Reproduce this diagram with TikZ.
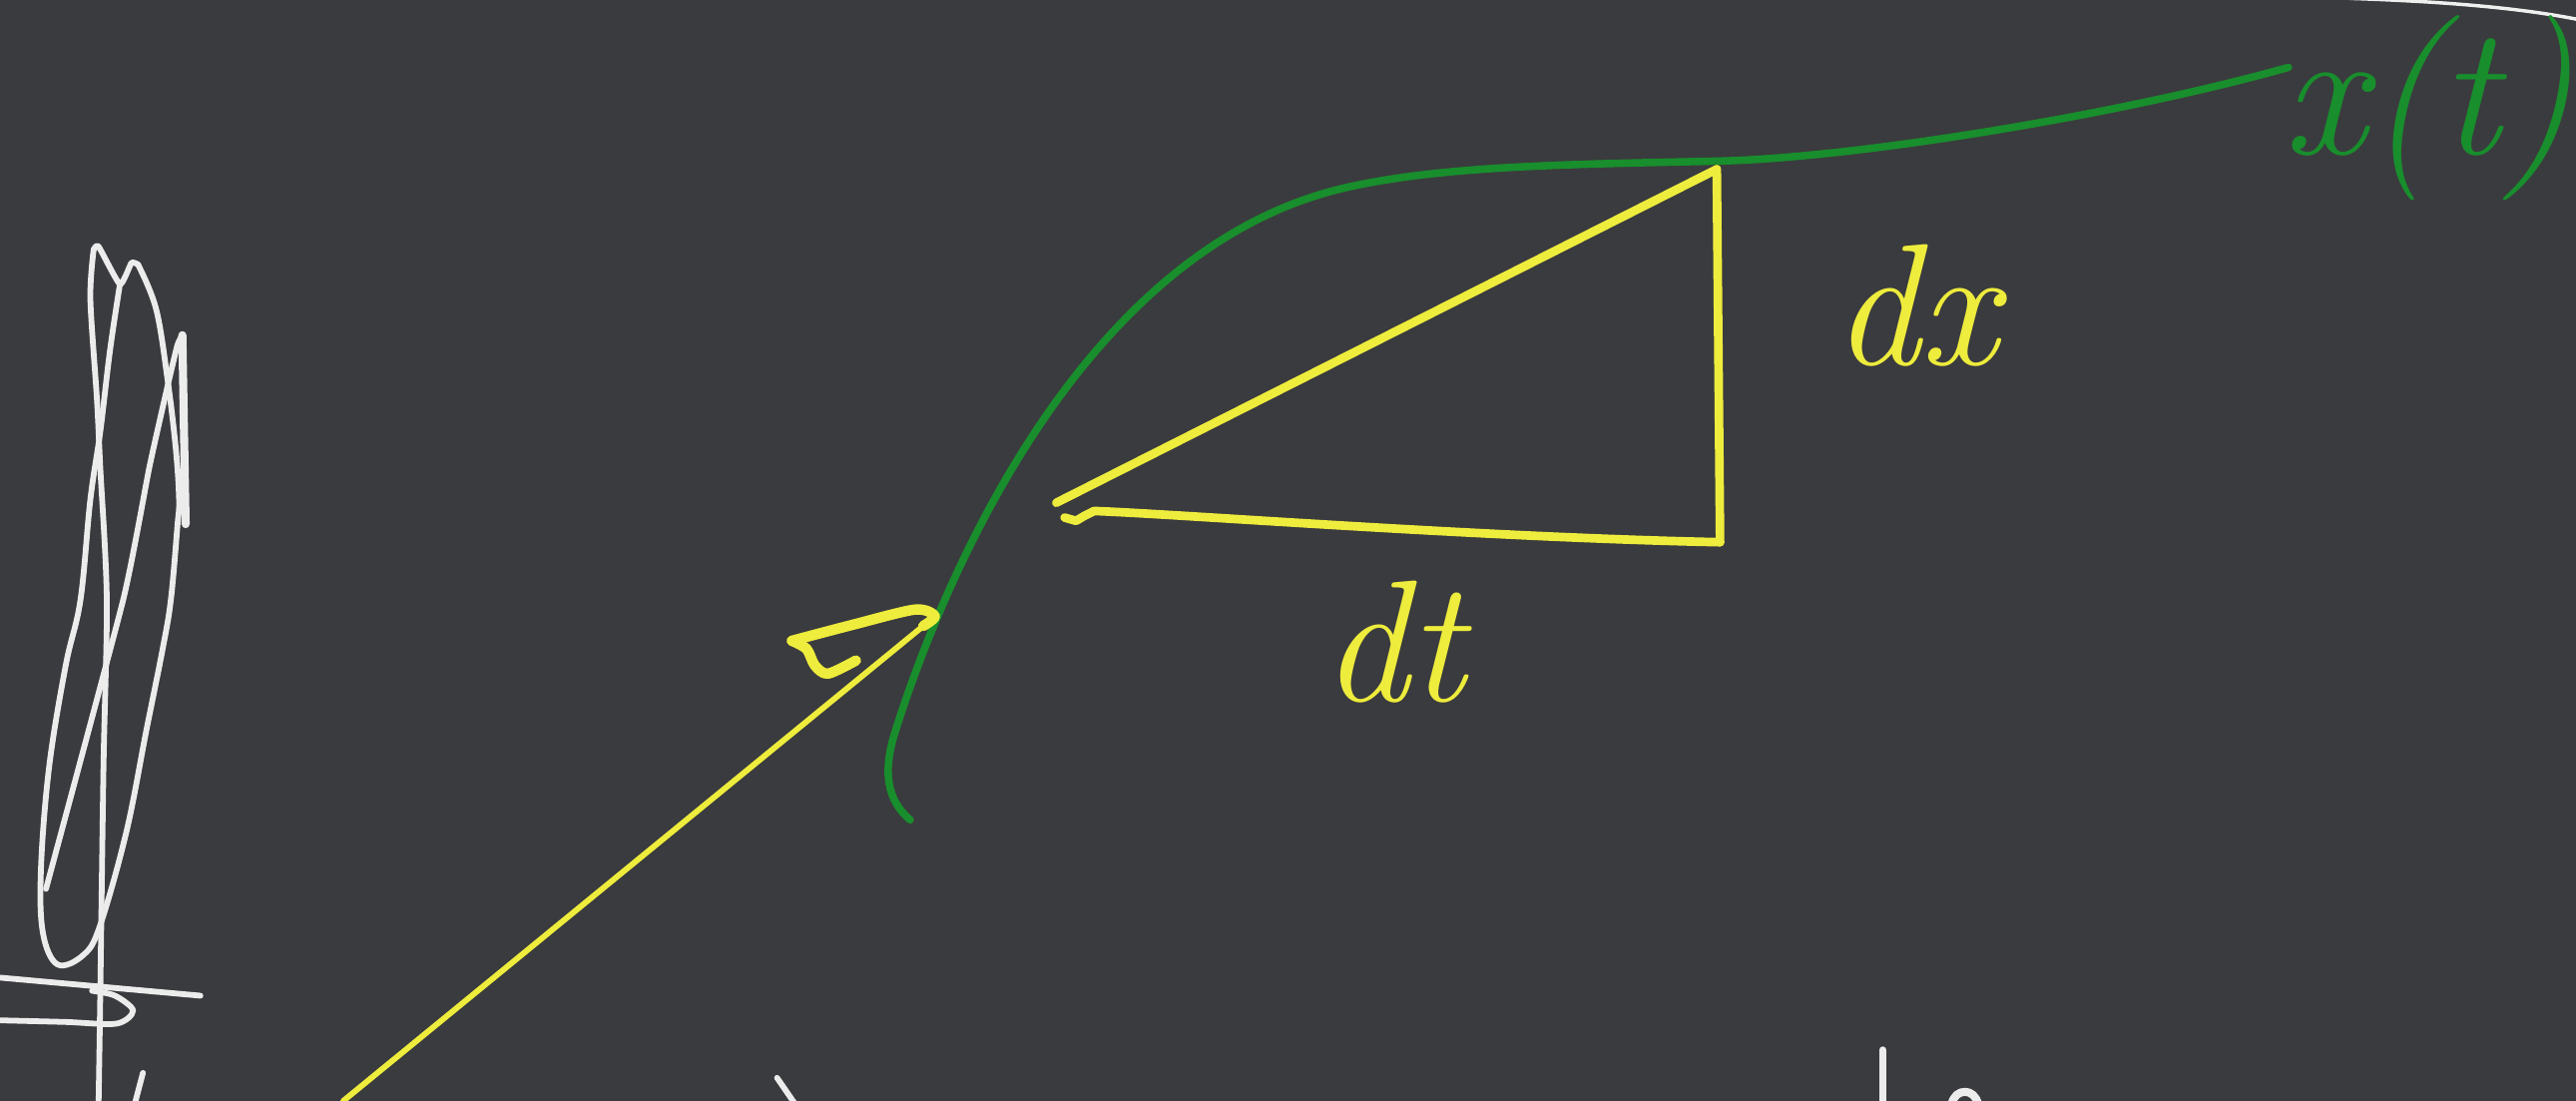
\documentclass[tikz,border=0pt]{standalone}
\definecolor{boardbg} {RGB}{58,59,62}
\definecolor{chalkyel}{RGB}{238,236,60}
\definecolor{chalkgrn}{RGB}{24,142,44}
\definecolor{chalkwht}{RGB}{236,236,236}
\usepackage{tikz}
\usetikzlibrary{calc}

\begin{document}
\begin{tikzpicture}[
        x=0.01cm, y=-0.01cm,
        ylw/.style={draw=chalkyel, line width=#1, line cap=round, line join=round},
        ylw/.default=1.5pt,
        grn/.style={draw=chalkgrn, line width=1.3pt, line cap=round, line join=round},
        wht/.style={draw=chalkwht, line width=#1, line cap=round, line join=round},
        wht/.default=1.0pt,
        lbl/.style={inner sep=0pt, text=#1, font=\fontsize{30}{36}\selectfont\itshape},
        lbl/.default=chalkyel
      ]
        % board
        \clip (0,0) rectangle (1568,670);
        \fill[boardbg] (0,0) rectangle (1568,670);
        \draw[wht=0.6pt, draw=chalkwht!85] (1430,-1) .. controls (1490,1) and (1535,5) .. (1570,12);

        % curve x(t)
        \draw[grn] (554,499) .. controls (540,487) and (537,470) .. (545,445)
          .. controls (575,350) and (660,150) .. (820,114)
          .. controls (880,100.5) and (960,100) .. (1047,98)
          .. controls (1130,96) and (1290,70) .. (1393,41);
        \node[lbl=chalkgrn, font=\fontsize{32}{38}\selectfont\itshape, anchor=base west]
          (xt) at (1389,94) {x(t)};

        % slope triangle
        \coordinate (tL) at (643,306);
        \coordinate (tR) at (1045,103);
        \coordinate (bR) at (1047,330);
        \draw[ylw] (tL) -- (tR) -- (bR);
        \draw[ylw] (bR) .. controls (900,327) and (720,313) .. (666,311)
          -- (660,314) -- (655,317) -- (648,315);
        \node[lbl, anchor=base] (dt) at (848,427) {dt};
        \node[lbl, anchor=base] (dx) at (1166,222) {dx};

        % arrow up to the curve
        \coordinate (arrtail) at (209,670);
        \coordinate (arrtip)  at (569,375);
        \draw[ylw=1.0pt] (arrtail) -- (562,381);
        \draw[ylw=1.8pt] plot[smooth, tension=0.5] coordinates {(562,381) (arrtip) (557,371) (520,380) (482,390)};
        \draw[ylw=1.8pt] plot[smooth, tension=0.5] coordinates {(482,390) (491,395) (496,405) (504,410) (521,402)};

        % scribble on the left
        \draw[wht] plot[smooth] coordinates {(60,672) (61,608) (63,466) (65,365) (61,284) (59,243) (55,182) (57,152)};
        \draw[wht] plot[smooth, tension=0.3] coordinates {(57,152) (60,150) (73,173) (80,160) (84,161)};
        \draw[wht] plot[smooth, tension=0.6] coordinates {(73,173) (67,213) (61,263) (55,304) (49,365)
          (40,405) (30,466) (25,527) (26,567) (35,587) (51,581) (61,563) (77,506) (89,445) (99,395)
          (104,365) (108,320) (109,304) (107,273) (102,231) (95,188) (84,161)};
        \draw[wht] plot[smooth, tension=0.3] coordinates {(28,541) (75,365) (91,284) (102,235) (108,210) (111,204)};
        \draw[wht=1.4pt] (111,204) -- (112,263) -- (113,319);
        \draw[wht] (0,595) -- (122,606);
        \draw[wht] plot[smooth, tension=0.5] coordinates {(0,621) (40,622) (71,623) (81,615) (70,606) (56,603)};
        \draw[wht] (87,653) -- (82,672);

        % marks at the bottom edge
        \draw[wht] (473,656) -- (484,672);
        \draw[wht=1.2pt] (1146,639) -- (1146,672);
        \draw[wht=1.4pt] (1188,672) .. controls (1190,662) and (1202,662) .. (1204,672);
      \end{tikzpicture}
\end{document}
